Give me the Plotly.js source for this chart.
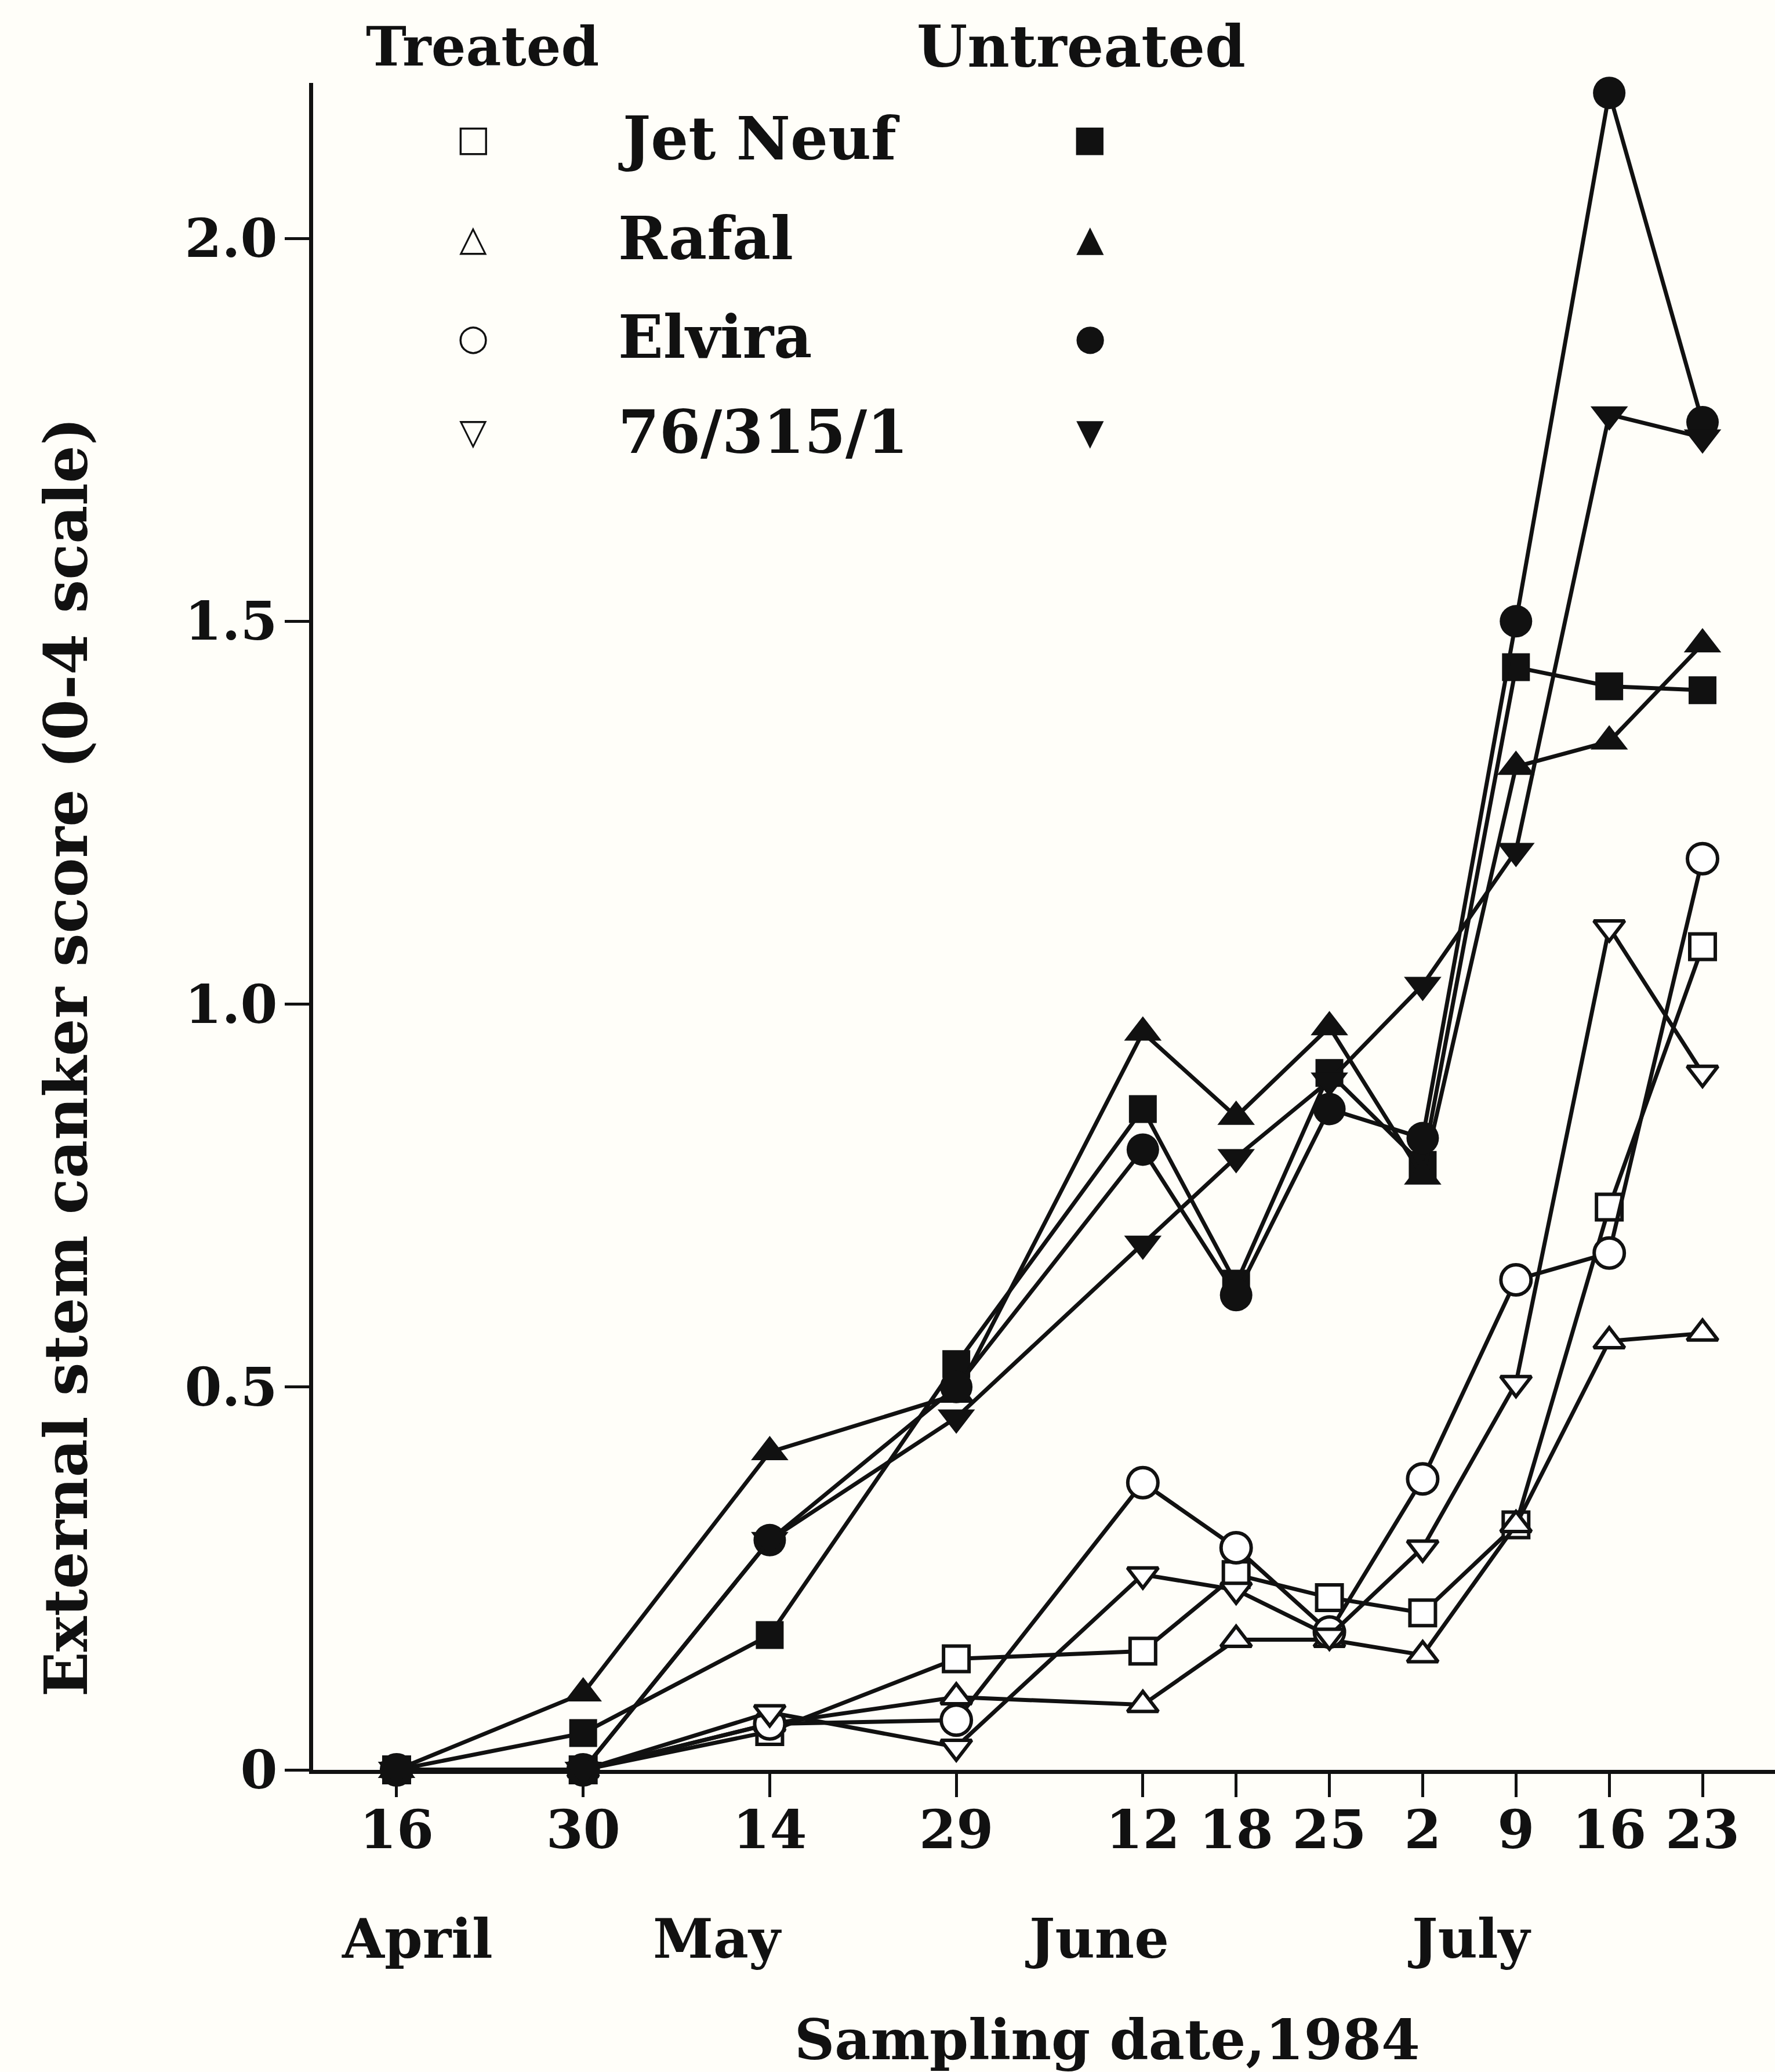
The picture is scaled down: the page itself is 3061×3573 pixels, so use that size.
<!DOCTYPE html>
<html>
<head>
<meta charset="utf-8">
<script src="https://cdn.plot.ly/plotly-3.0.1.min.js"></script>
<style>
  html, body { margin: 0; padding: 0; background: #fffef9; }
  #chart { width: 3061px; height: 3573px; }
</style>
</head>
<body>
<div id="chart"></div>
<script>
// ---- Data ----
// Sampling dates, 1984 (plotted at weekly intervals as in the figure)
const samplingWeek = [0, 2, 4, 6, 8, 9, 10, 11, 12, 13, 14];
const dateLabels   = ["16", "30", "14", "29", "12", "18", "25", "2", "9", "16", "23"];
const monthLabels  = ["April", "May", "June", "July"];
const cultivars    = ["Jet Neuf", "Rafal", "Elvira", "76/315/1"];

// External stem canker score (0-4 scale) - treated plots
const jetNeufTreated   = [0, 0, 0.05, 0.145, 0.155, 0.255, 0.225, 0.205, 0.32, 0.735, 1.075];
const rafalTreated     = [0, 0, 0.06, 0.095, 0.085, 0.17, 0.17, 0.15, 0.32, 0.56, 0.57];
const elviraTreated    = [0, 0, 0.06, 0.065, 0.375, 0.29, 0.18, 0.38, 0.64, 0.675, 1.19];
const line76Treated    = [0, 0, 0.075, 0.03, 0.255, 0.235, 0.175, 0.29, 0.505, 1.10, 0.91];

// Untreated plots
const jetNeufUntreated = [0, 0.048, 0.176, 0.53, 0.863, 0.635, 0.91, 0.79, 1.44, 1.415, 1.41];
const rafalUntreated   = [0, 0.10, 0.415, 0.49, 0.963, 0.853, 0.97, 0.775, 1.31, 1.343, 1.47];
const elviraUntreated  = [0, 0, 0.30, 0.50, 0.81, 0.62, 0.863, 0.825, 1.50, 2.19, 1.76];
const line76Untreated  = [0, 0, 0.30, 0.46, 0.687, 0.80, 0.90, 1.025, 1.20, 1.77, 1.74];

const yTickVals = [0, 0.5, 1.0, 1.5, 2.0];
const yTickText = ["0", "0.5", "1.0", "1.5", "2.0"];

// ---- Styling ----
const FONT = "DejaVu Serif, Liberation Serif, serif";
const INK = "#111111";
const BG = "#fffef9";

function series(name, y, symbol, filled, size) {
  return {
    type: "scatter",
    mode: "lines+markers",
    name: name,
    x: samplingWeek,
    y: y,
    cliponaxis: false,
    line: { color: INK, width: 7 },
    marker: {
      symbol: symbol,
      size: size,
      color: filled ? INK : "#ffffff",
      line: { color: INK, width: filled ? 0 : 6 }
    },
    showlegend: false
  };
}

const traces = [
  series("Jet Neuf (treated)", jetNeufTreated, "square", false, 44),
  series("Rafal (treated)", rafalTreated, "triangle-up", false, 46),
  series("Elvira (treated)", elviraTreated, "circle", false, 52),
  series("76/315/1 (treated)", line76Treated, "triangle-down", false, 46),
  series("Jet Neuf (untreated)", jetNeufUntreated, "square", true, 48),
  series("Rafal (untreated)", rafalUntreated, "triangle-up", true, 56),
  series("Elvira (untreated)", elviraUntreated, "circle", true, 56),
  series("76/315/1 (untreated)", line76Untreated, "triangle-down", true, 56)
];

// ---- Annotations: legend block, month labels, axis titles ----
const annotations = [];
const txt = (text, x, y, size, opts) => Object.assign({
  text: text, x: x, y: y, xref: "paper", yref: "paper",
  showarrow: false, font: { family: FONT, size: size, color: INK, weight: 700 },
  xanchor: "center", yanchor: "middle"
}, opts || {});

annotations.push(txt("Treated", 0.1158, 1.0217, 94));
annotations.push(txt("Untreated", 0.5252, 1.0217, 100));

const rowY = [0.967, 0.908, 0.8494, 0.7931];
const openGlyph = ["\u25A1", "\u25B3", "\u25CB", "\u25BD"];
const fillGlyph = ["\u25A0", "\u25B2", "\u25CF", "\u25BC"];
cultivars.forEach((c, i) => {
  annotations.push(txt(openGlyph[i], 0.1095, rowY[i], 62, { font: { family: "DejaVu Sans", size: 62, color: INK } }));
  annotations.push(txt(c, 0.2079, rowY[i], 102, { xanchor: "left" }));
  annotations.push(txt(fillGlyph[i], 0.5315, rowY[i], 62, { font: { family: "DejaVu Sans", size: 62, color: INK } }));
});

const monthX = [0.0714, 0.2765, 0.5361, 0.7910];
monthLabels.forEach((m, i) => annotations.push(txt(m, monthX[i], -0.100, 94)));

annotations.push(txt("Sampling date,1984", 0.5434, -0.1599, 96));
annotations.push(txt("External stem canker score (0-4 scale)", -0.169, 0.4225, 102, { textangle: -90 }));

const layout = {
  width: 3061,
  height: 3573,
  paper_bgcolor: BG,
  plot_bgcolor: BG,
  margin: { l: 540, r: 0, t: 143, b: 521, pad: 0 },
  showlegend: false,
  font: { family: FONT, color: INK, size: 92 },
  xaxis: {
    range: [-0.895, 14.777],
    tickmode: "array",
    tickvals: samplingWeek,
    ticktext: dateLabels,
    ticks: "outside",
    ticklen: 40,
    tickwidth: 5,
    tickcolor: INK,
    ticklabelstandoff: -22,
    tickfont: { family: FONT, size: 92, color: INK, weight: 700 },
    showline: true,
    linecolor: INK,
    linewidth: 7,
    showgrid: false,
    zeroline: false,
    fixedrange: true
  },
  yaxis: {
    range: [0, 2.203],
    tickmode: "array",
    tickvals: yTickVals,
    ticktext: yTickText,
    ticks: "outside",
    ticklen: 42,
    tickwidth: 5,
    tickcolor: INK,
    ticklabelstandoff: -6,
    tickfont: { family: FONT, size: 92, color: INK, weight: 700 },
    showline: true,
    linecolor: INK,
    linewidth: 7,
    showgrid: false,
    zeroline: false,
    fixedrange: true
  },
  annotations: annotations
};

Plotly.newPlot("chart", traces, layout, { staticPlot: true, displayModeBar: false });
</script>
</body>
</html>
